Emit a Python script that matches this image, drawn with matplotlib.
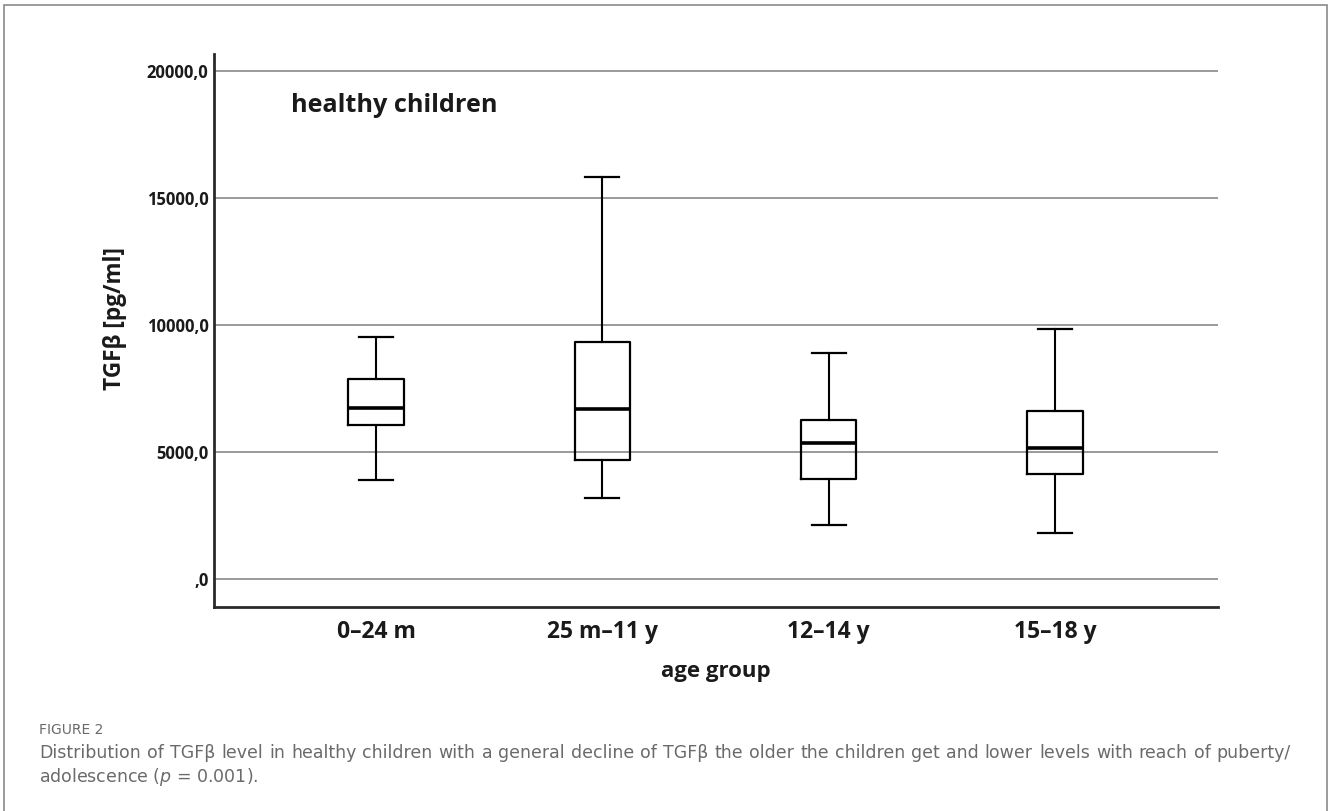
import matplotlib
matplotlib.use("Agg")
import matplotlib.pyplot as plt
from matplotlib.patches import Rectangle
from matplotlib.ticker import FuncFormatter

# TGF-beta summary statistics per age group (pg/ml)
groups = ["0–24 m", "25 m–11 y", "12–14 y", "15–18 y"]
whisker_low = [3890, 3190, 2130, 1810]
q1 = [6060, 4690, 3940, 4150]
median = [6730, 6680, 5350, 5150]
q3 = [7870, 9310, 6240, 6600]
whisker_high = [9520, 15800, 8890, 9840]

y_ticks = [0, 5000, 10000, 15000, 20000]

caption_title = "FIGURE 2"
caption_line1 = ("Distribution of TGFβ level in healthy children with a general decline of TGFβ "
                 "the older the children get and lower levels with reach of puberty/")
caption_line2 = "adolescence ($\\it{p}$ = 0.001)."

W, H = 1328, 811
fig = plt.figure(figsize=(W / 100, H / 100), dpi=100)
fig.patch.set_facecolor("white")

# Thin frame round the whole figure panel
fig.add_artist(Rectangle((4 / W, -0.05), (1327 - 4) / W, 1.05 - 5 / H,
                         transform=fig.transFigure, fill=False,
                         edgecolor="#8a8a8a", linewidth=1.2))

ax = fig.add_axes([214 / W, 1 - 607 / H, (1218 - 214) / W, (607 - 54) / H])

stats = []
for i, g in enumerate(groups):
    stats.append(dict(label=g, whislo=whisker_low[i], q1=q1[i], med=median[i],
                      q3=q3[i], whishi=whisker_high[i], fliers=[]))

positions = list(range(1, len(groups) + 1))
ax.bxp(stats, positions=positions, widths=0.245, capwidths=0.15,
       showfliers=False, patch_artist=False,
       boxprops=dict(color="black", linewidth=1.6),
       whiskerprops=dict(color="black", linewidth=1.5),
       capprops=dict(color="black", linewidth=1.6),
       medianprops=dict(color="black", linewidth=2.6))

ax.set_xlim(0.284, 4.72)
ax.set_ylim(-1100, 20650)


def spss_fmt(v, pos):
    s = ("%.1f" % v).replace(".", ",")
    return s.lstrip("0") if v == 0 else s


ax.set_yticks(y_ticks)
ax.yaxis.set_major_formatter(FuncFormatter(spss_fmt))
ax.set_xticks(positions)
ax.set_xticklabels(groups)

ax.grid(axis="y", color="#9a9a9a", linewidth=1.4)
ax.set_axisbelow(True)
ax.tick_params(axis="both", length=0)
ax.tick_params(axis="y", pad=4)
ax.tick_params(axis="x", pad=9)
for lab in ax.get_yticklabels():
    lab.set_fontfamily("Open Sans")
    lab.set_fontweight("bold")
    lab.set_fontsize(12)
    lab.set_color("#1a1a1a")
for lab in ax.get_xticklabels():
    lab.set_fontfamily("Open Sans")
    lab.set_fontweight("bold")
    lab.set_fontsize(16.5)
    lab.set_color("#1a1a1a")

for side in ["top", "right"]:
    ax.spines[side].set_visible(False)
for side in ["left", "bottom"]:
    ax.spines[side].set_linewidth(2)
    ax.spines[side].set_color("#2a2a2a")

ax.set_ylabel("TGFβ [pg/ml]", fontfamily="Open Sans", fontweight="bold",
              fontsize=16.3, color="#1a1a1a")
ax.yaxis.set_label_coords((127 - 214) / (1218 - 214), (607 - 319) / (607 - 54))
ax.set_xlabel("age group", fontfamily="Open Sans", fontweight="bold",
              fontsize=16, color="#1a1a1a")
ax.xaxis.set_label_coords(0.5, -(672 - 607) / (607 - 54))
ax.xaxis.label.set_va("center")

fig.text(291 / W, 1 - 105 / H, "healthy children", fontfamily="Open Sans",
         fontweight="bold", fontsize=18.2, color="#1a1a1a", va="center", ha="left")

# Caption block
cap_color = "#6a6a6a"
cap_font = "DejaVu Sans"
fig.text(39 / W, 1 - 734 / H, caption_title, fontfamily=cap_font,
         fontsize=10, color="#6a6a6a", va="baseline", ha="left")

fig.canvas.draw()
renderer = fig.canvas.get_renderer()
x_left, x_right = 39, 1291

# Pick a size where the first line nearly fills the text column
probe = fig.text(0, 0, caption_line1, fontfamily=cap_font, fontsize=10)
natural = probe.get_window_extent(renderer).width
probe.remove()
cap_size = min(12.5, 10 * (x_right - x_left) / natural * 0.985)

# Justified first line: spread words between left and right margins
words = caption_line1.split(" ")
arts, widths = [], []
for w_ in words:
    t = fig.text(0, 1 - 758 / H, w_, fontfamily=cap_font, fontsize=cap_size,
                 color=cap_color, va="baseline", ha="left")
    arts.append(t)
    widths.append(t.get_window_extent(renderer).width)
gap = (x_right - x_left - sum(widths)) / (len(words) - 1)
x = x_left
for t, wd in zip(arts, widths):
    t.set_x(x / W)
    x += wd + gap

fig.text(39 / W, 1 - 782 / H, caption_line2, fontfamily=cap_font,
         fontsize=cap_size, color=cap_color, va="baseline", ha="left")

fig.savefig("out.png", dpi=100, facecolor="white")
